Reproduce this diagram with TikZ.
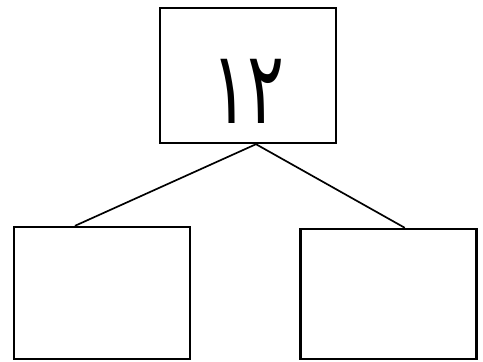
\documentclass[tikz,border=0pt]{standalone}
\usepackage{fontspec}
\newfontfamily\arabicfont[Script=Arabic]{DejaVu Sans}
\usetikzlibrary{positioning}

\begin{document}
\begin{tikzpicture}[
    box/.style={draw, line width=1.7pt, fill=white, minimum width=4.4cm, minimum height=3.3cm, inner sep=0pt},
    branch/.style={line width=1.2pt}
  ]
    \useasboundingbox (0,0) rectangle (12.075,9.025);
    \node[box, minimum height=3.375cm] (root) at (6.2,7.1375)
      {\raisebox{-1.19cm}[0pt][0pt]{\scalebox{0.68}[1]{\arabicfont\fontsize{72}{80}\selectfont ١٢}}};
    \node[box] (leftbox) at (2.55,1.7) {};
    \node[box, minimum height=3.25cm] (rightbox) at (9.71,1.675) {};
    \draw[branch] ([xshift=0.2cm]root.south) -- ([xshift=-0.675cm]leftbox.north);
    \draw[branch] ([xshift=0.2cm]root.south) -- ([xshift=0.41cm]rightbox.north);
  \end{tikzpicture}
\end{document}
